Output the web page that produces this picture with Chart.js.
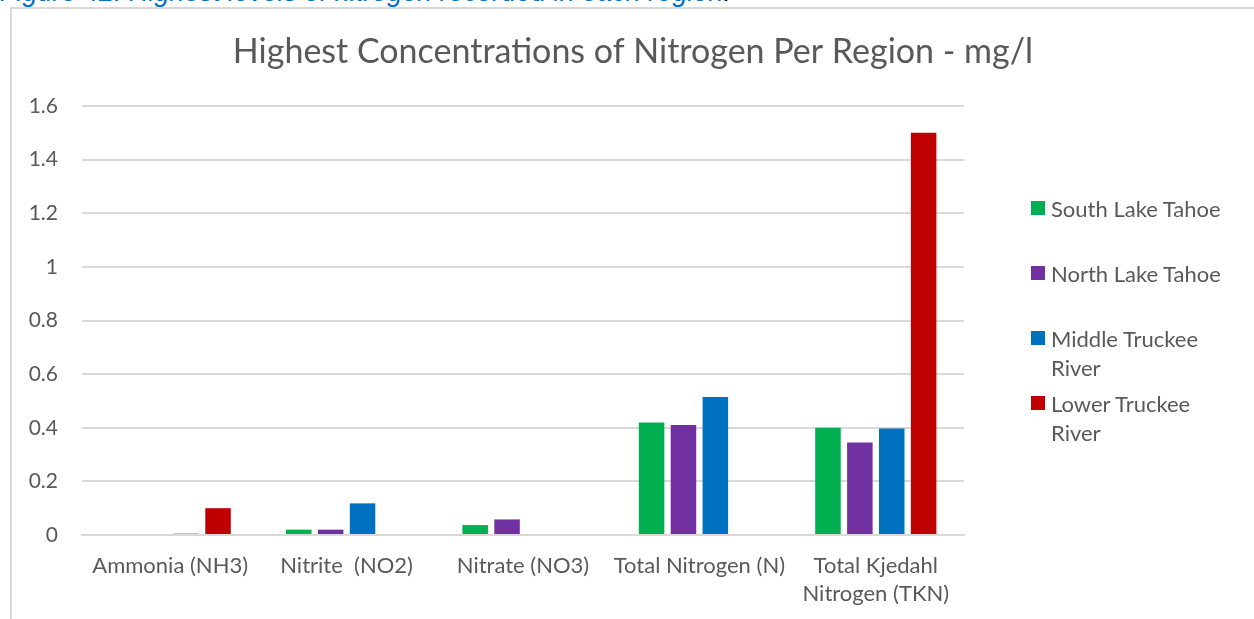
<!DOCTYPE html>
<html>
<head>
<meta charset="utf-8">
<script src="https://cdn.jsdelivr.net/npm/chart.js@4.4.1/dist/chart.umd.min.js"></script>
<style>
  html, body { margin: 0; padding: 0; background: #fff; overflow: hidden; }
  body { width: 1254px; height: 619px; position: relative; }
  #caption {
    position: absolute; left: 0; top: -21px; white-space: nowrap;
    font-family: "Liberation Sans", Arial, sans-serif; font-style: italic;
    font-size: 27px; line-height: 1; color: #0070c0;
  }
  #caption span { color: #000; }
  #frame {
    position: absolute; left: 10px; top: 7px; width: 1260px; height: 630px;
    border: 2px solid #d9d9d9; box-sizing: border-box;
  }
  #wrap { position: absolute; left: 12px; top: 9px; width: 1242px; height: 610px; }
  #legend { position: absolute; left: 1031px; top: 0; font-family: Lato, sans-serif; font-size: 22px; color: #595959; }
  .item { position: absolute; left: 0; white-space: nowrap; }
  .sw { position: absolute; left: 0; width: 14px; height: 14px; }
  .tx { position: absolute; left: 20px; line-height: 29px; }
</style>
</head>
<body>
<div id="caption">Figure 42: Highest levels of nitrogen recorded in each region<span>.</span></div>
<div id="frame"></div>
<div id="wrap"><canvas id="c"></canvas></div>
<div id="legend"></div>
<script>
const categories = ["Ammonia (NH3)", "Nitrite  (NO2)", "Nitrate (NO3)", "Total Nitrogen (N)", ["Total Kjedahl", "Nitrogen (TKN)"]];
const seriesNames = ["South Lake Tahoe", "North Lake Tahoe", "Middle Truckee River", "Lower Truckee River"];
const legendLines = [["South Lake Tahoe"], ["North Lake Tahoe"], ["Middle Truckee", "River"], ["Lower Truckee", "River"]];
const seriesColors = ["#00b050", "#7030a0", "#0070c0", "#c00000"];
const southLakeTahoe = [null, 0.02, 0.037, 0.42, 0.40];
const northLakeTahoe = [null, 0.02, 0.058, 0.41, 0.345];
const middleTruckee = [0.005, 0.118, null, 0.515, 0.397];
const lowerTruckee = [0.10, null, null, null, 1.5];
const yTicks = [0, 0.2, 0.4, 0.6, 0.8, 1, 1.2, 1.4, 1.6];
const yTickLabels = ["0", "0.2", "0.4", "0.6", "0.8", "1", "1.2", "1.4", "1.6"];
const chartTitle = "Highest Concentrations of Nitrogen Per Region - mg/l";

const seriesValues = [southLakeTahoe, northLakeTahoe, middleTruckee, lowerTruckee];

const legendEl = document.getElementById('legend');
const legendTops = [208, 273, 338, 403];
legendLines.forEach((lines, i) => {
  const it = document.createElement('div');
  it.className = 'item';
  it.style.top = (legendTops[i] - 14.5) + 'px';
  const sw = document.createElement('div');
  sw.className = 'sw'; sw.style.background = seriesColors[i]; sw.style.top = '7.5px';
  const tx = document.createElement('div');
  tx.className = 'tx';
  tx.innerHTML = lines.join('<br>');
  it.appendChild(sw); it.appendChild(tx);
  legendEl.appendChild(it);
});

const font = "Lato, 'Open Sans', sans-serif";
new Chart(document.getElementById('c'), {
  type: 'bar',
  data: {
    labels: categories,
    datasets: seriesValues.map((v, i) => ({
      label: seriesNames[i],
      data: v,
      backgroundColor: seriesColors[i],
      borderWidth: 0,
      categoryPercentage: 0.723,
      barPercentage: 0.8
    }))
  },
  options: {
    responsive: true,
    maintainAspectRatio: false,
    animation: false,
    layout: { padding: 0 },
    plugins: {
      legend: { display: false },
      tooltip: { enabled: false },
      title: {
        display: true, text: chartTitle, color: '#595959',
        font: { family: font, size: 34, weight: 'normal', lineHeight: 1.2 },
        padding: { top: 22.6, bottom: 33.6 }
      }
    },
    scales: {
      x: {
        grid: { display: false, drawTicks: false },
        border: { display: true, color: '#d9d9d9', width: 2 },
        ticks: { color: '#595959', font: { family: font, size: 22, lineHeight: 1.27 }, padding: 17, maxRotation: 0, autoSkip: false },
        afterFit: s => { s.height = 84; }
      },
      y: {
        min: 0, max: 1.6,
        afterBuildTicks: s => { s.ticks = yTicks.map(v => ({ value: v })); },
        grid: { color: '#d9d9d9', lineWidth: 2, drawTicks: false },
        border: { display: false },
        ticks: { color: '#595959', font: { family: font, size: 21 }, padding: 24,
                 callback: (v, i) => yTickLabels[i] },
        afterFit: s => { s.width = 70; }
      },
      yRight: {
        position: 'right',
        display: true,
        grid: { display: false, drawTicks: false },
        border: { display: false },
        ticks: { display: false },
        afterFit: s => { s.width = 290; }
      }
    }
  }
});
</script>
</body>
</html>
